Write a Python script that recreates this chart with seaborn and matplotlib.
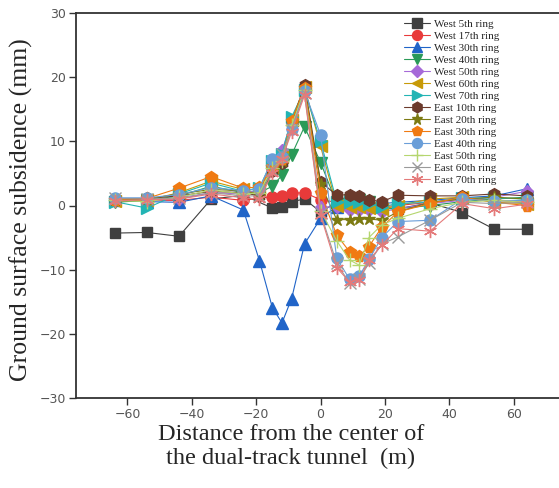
import numpy as np
import pandas as pd
import matplotlib.pyplot as plt
import seaborn as sns

# distance of survey points from tunnel centre (m)
distance = [-64, -54, -44, -34, -24, -19, -15, -12, -9, -5, 0,
            5, 9, 12, 15, 19, 24, 34, 44, 54, 64]

rings = ["West 5th ring", "West 17th ring", "West 30th ring", "West 40th ring",
         "West 50th ring", "West 60th ring", "West 70th ring", "East 10th ring",
         "East 20th ring", "East 30th ring", "East 40th ring", "East 50th ring",
         "East 60th ring", "East 70th ring"]

nan = np.nan
west5 = [-4.3, -4.2, -4.8, 1.0, 1.6, nan, -0.4, -0.2, 0.6, 1.0, -1.0,
         0.5, 0.3, 0.0, 0.0, -0.3, -0.5, 0.4, -1.1, -3.7, -3.7]
west17 = [1.0, 0.8, 0.8, 1.3, 0.8, nan, 1.4, 1.5, 1.9, 2.0, 0.9,
          0.5, 0.3, 0.2, 0.0, -0.2, 0.0, 0.5, 1.0, 0.8, 0.5]
west30 = [0.8, 0.6, 0.5, 1.5, -0.7, -8.6, -15.9, -18.3, -14.5, -6.0, -2.0,
          -0.2, 0.2, 0.3, 0.3, 0.3, 0.5, 0.8, 1.2, 1.5, 2.6]
west40 = [0.5, 0.8, 1.5, 3.0, 2.0, 2.0, 3.0, 4.7, 7.9, 12.3, 6.7,
          0.3, 0.8, 0.8, 0.5, -0.5, -0.5, 0.0, 0.6, 1.0, 1.3]
west50 = [1.0, 0.8, 1.0, 2.0, 1.8, 2.5, 6.5, 8.6, 13.0, 18.0, -0.2,
          -0.3, -0.7, -0.7, -0.7, -1.0, -0.5, 0.3, 0.8, 1.3, 2.2]
west60 = [0.7, 0.8, 2.0, 3.8, 2.5, 2.5, 6.0, 7.6, 13.3, 18.5, 9.2,
          0.0, -0.3, -0.2, -0.4, -0.6, 0.0, 1.0, 1.3, 0.5, 0.3]
west70 = [0.6, -0.4, 1.8, 3.5, 2.2, 2.8, 7.0, 8.0, 13.8, 18.0, 10.0,
          0.6, 0.5, 0.5, 0.2, -0.2, 0.3, 0.5, 1.1, 1.2, 1.0]
east10 = [1.0, 1.1, 1.5, 2.2, 2.0, 1.5, 5.3, 6.6, 12.8, 18.8, 3.7,
          1.6, 1.7, 1.5, 0.9, 0.6, 1.6, 1.5, 1.5, 1.8, 1.5]
east20 = [0.8, 1.0, 1.8, 2.5, 2.3, 1.8, 5.6, 7.0, 13.0, 18.2, 3.3,
          -2.2, -2.2, -2.1, -2.1, -2.3, -1.0, 0.5, 1.0, 1.3, 1.0]
east30 = [0.9, 1.1, 2.7, 4.5, 2.7, 2.9, 6.0, 7.2, 13.2, 18.3, 1.9,
          -4.6, -7.2, -7.9, -6.4, -3.4, -1.0, 0.3, 1.3, 0.5, 0.0]
east40 = [1.2, 1.2, 1.7, 2.8, 2.3, 2.6, 7.3, 7.5, 12.0, 17.8, 11.0,
          -8.2, -11.5, -11.0, -8.4, -5.0, -2.5, -2.3, 1.0, 0.7, 0.8]
east50 = [0.8, 0.6, 1.3, 2.4, 1.8, 2.0, 5.8, 7.0, 12.5, 18.0, -0.8,
          -5.5, -8.5, -9.3, -5.0, -3.0, -2.0, -0.5, 0.5, 0.8, 0.5]
east60 = [1.1, 1.0, 1.2, 2.0, 1.5, 1.5, 5.5, 8.0, 12.0, 17.5, -1.2,
          -9.0, -12.1, -11.5, -9.0, -6.0, -4.9, -2.3, 0.5, 0.3, 0.5]
east70 = [0.7, 0.9, 1.0, 1.8, 1.2, 1.0, 5.0, 7.2, 11.5, 17.2, -1.5,
          -9.7, -11.9, -11.6, -8.5, -6.2, -3.6, -4.0, 0.3, -0.5, 0.2]

values = [west5, west17, west30, west40, west50, west60, west70,
          east10, east20, east30, east40, east50, east60, east70]

colors = ["#3f3f3f", "#e83a3a", "#2064c8", "#2a9a58", "#a66ad8", "#c79a08",
          "#22b4b4", "#6b3a2c", "#7c7a12", "#f07a12", "#6a9ed8", "#b5d66e",
          "#9a9a9a", "#e47a7a"]
markers = ["s", "o", "^", "v", "D", "<", ">", "h", "*", "p", "o", "+", "x", (6, 2, 0)]
msizes = [7.5, 8, 8, 8, 6.5, 8, 8, 8.5, 9, 8.5, 8, 9.5, 8.5, 9.5]

frames = []
for name, v in zip(rings, values):
    frames.append(pd.DataFrame({"Distance": distance, "Subsidence": v, "Ring": name}))
df = pd.concat(frames).dropna()

sns.set_style("ticks")
plt.rcParams["font.family"] = "DejaVu Sans"

fig = plt.figure(figsize=(5.59, 4.88), dpi=100)
ax = fig.add_axes([76/559, 90/488, 486/559, 385/488])

handles = []
for name, c, m, ms in zip(rings, colors, markers, msizes):
    sub = df[df["Ring"] == name]
    sns.lineplot(data=sub, x="Distance", y="Subsidence", color=c, marker=m,
                 markersize=ms, markeredgecolor=c, markerfacecolor=c,
                 markeredgewidth=1.0, sort=False, lw=0.8, ax=ax)
    handles.append(ax.lines[-1])

ax.set_xlim(-76, 75)
ax.set_ylim(-30, 30)
ax.set_xticks([-60, -40, -20, 0, 20, 40, 60])
ax.set_yticks([-30, -20, -10, 0, 10, 20, 30])
ax.tick_params(direction="out", length=5, width=1, labelsize=9, pad=2.5,
               colors="#333333", labelcolor="#555555")
for s in ["left", "bottom", "top"]:
    ax.spines[s].set_linewidth(1.3)
    ax.spines[s].set_color("#333333")
ax.spines["right"].set_visible(False)

ax.set_xlabel("Distance from the center of\nthe dual-track tunnel  (m)",
              family="Liberation Serif", fontsize=17.5, linespacing=1.15)
ax.xaxis.set_label_coords(0.442, -0.068)
ax.set_ylabel("Ground surface subsidence (mm)", family="Liberation Serif", fontsize=18.5)
ax.yaxis.set_label_coords(-0.088, 0.49)

leg = ax.legend(handles, rings, loc="upper left", bbox_to_anchor=(396/559, 1 - 11/488),
                bbox_transform=fig.transFigure, frameon=False,
                prop={"family": "Liberation Serif", "size": 8},
                handlelength=2.4, handletextpad=0.3, labelspacing=0.2, borderpad=0.2,
                markerscale=0.9)

plt.savefig("out.png", dpi=100)
